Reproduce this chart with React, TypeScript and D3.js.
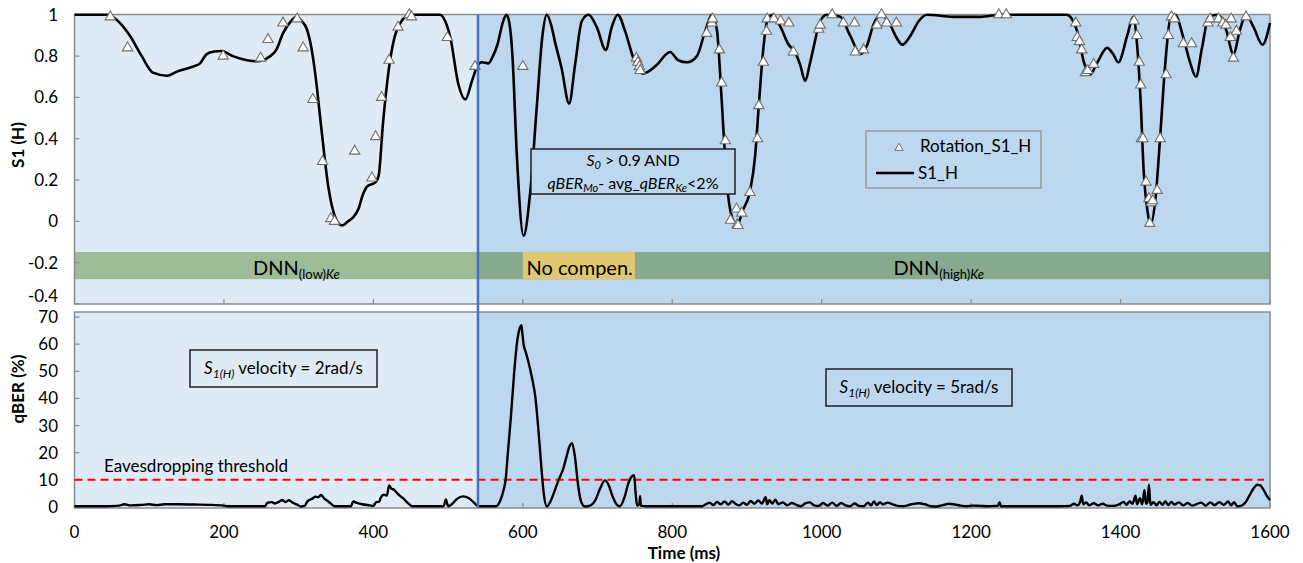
import React from "react";
import * as d3 from "d3";

// S1_H (smoothed line), time in ms
const s1Time = [0, 45, 55, 74, 90, 105, 124, 137, 159, 168, 177, 187, 197, 212, 231, 244, 262, 270, 279, 290, 297, 304, 311, 317, 322, 331, 340, 349, 358, 366, 373, 380, 386, 392, 398, 403, 407, 413, 422, 429, 436, 449, 489, 496, 503, 514, 523, 532, 539, 545, 554, 560, 566, 573, 578, 582, 586, 592, 601, 610, 619, 626, 632, 638, 643, 652, 662, 670, 679, 688, 699, 711, 719, 727, 737, 748, 761, 770, 780, 797, 808, 820, 833, 844, 853, 860, 864, 869, 875, 882, 887, 894, 904, 911, 916, 922, 927, 934, 945, 955, 964, 971, 978, 984, 989, 998, 1007, 1025, 1038, 1052, 1061, 1069, 1079, 1092, 1100, 1108, 1119, 1130, 1141, 1176, 1212, 1240, 1328, 1335, 1342, 1351, 1359, 1369, 1382, 1390, 1397, 1409, 1417, 1422, 1427, 1431, 1436, 1440, 1447, 1453, 1460, 1467, 1473, 1484, 1493, 1501, 1509, 1518, 1530, 1541, 1551, 1560, 1568, 1578, 1590, 1600];
const s1Value = [1.0, 1.0, 0.98, 0.9, 0.8, 0.72, 0.705, 0.725, 0.75, 0.765, 0.81, 0.822, 0.825, 0.8, 0.78, 0.775, 0.8, 0.83, 0.91, 0.97, 0.99, 0.97, 0.93, 0.84, 0.72, 0.43, 0.16, 0.02, -0.02, 0.0, 0.02, 0.06, 0.13, 0.17, 0.18, 0.19, 0.22, 0.48, 0.77, 0.9, 0.96, 1.0, 1.0, 0.97, 0.89, 0.66, 0.59, 0.68, 0.75, 0.77, 0.765, 0.8, 0.855, 0.96, 1.0, 0.96, 0.81, 0.32, -0.07, 0.145, 0.57, 0.89, 1.0, 0.95, 0.87, 0.74, 0.57, 0.76, 0.97, 1.0, 0.94, 0.83, 0.94, 1.0, 0.92, 0.79, 0.715, 0.73, 0.76, 0.82, 0.78, 0.77, 0.8, 0.92, 1.0, 0.92, 0.72, 0.41, 0.12, 0.0, -0.02, 0.05, 0.145, 0.32, 0.57, 0.84, 0.97, 1.0, 0.94, 0.86, 0.82, 0.76, 0.68, 0.76, 0.84, 0.97, 1.0, 0.99, 0.9, 0.81, 0.855, 0.95, 1.0, 0.95, 0.89, 0.855, 0.9, 0.97, 1.0, 0.99, 0.99, 1.0, 1.0, 0.98, 0.92, 0.77, 0.71, 0.77, 0.84, 0.81, 0.77, 0.9, 0.99, 0.86, 0.57, 0.24, 0.05, -0.015, 0.12, 0.41, 0.77, 0.99, 1.0, 0.89, 0.77, 0.7, 0.84, 0.99, 1.0, 0.93, 0.81, 0.93, 1.0, 0.94, 0.855, 0.96];

// Rotation_S1_H (triangle markers)
const rotTime = [48, 71, 199, 249, 259, 279, 298, 306, 319, 332, 343, 348, 375, 398, 403, 411, 421, 433, 448, 451, 499, 536, 600, 752, 754, 756, 757, 846, 853, 854, 863, 866, 871, 878, 886, 887, 888, 893, 904, 914, 916, 922, 926, 927, 936, 945, 956, 962, 996, 998, 1014, 1029, 1044, 1045, 1056, 1074, 1080, 1087, 1100, 1237, 1247, 1340, 1342, 1345, 1348, 1353, 1356, 1364, 1418, 1422, 1425, 1427, 1428, 1430, 1434, 1438, 1439, 1441, 1443, 1449, 1453, 1461, 1464, 1468, 1472, 1484, 1495, 1517, 1520, 1531, 1537, 1541, 1547, 1548, 1551, 1555, 1568];
const rotValue = [0.99, 0.84, 0.8, 0.79, 0.88, 0.96, 0.98, 0.84, 0.59, 0.29, 0.013, 0.0, 0.34, 0.21, 0.41, 0.6, 0.78, 0.94, 1.0, 0.99, 0.89, 0.75, 0.75, 0.79, 0.77, 0.75, 0.73, 0.91, 0.96, 0.98, 0.83, 0.67, 0.39, 0.005, 0.06, -0.015, -0.02, 0.04, 0.14, 0.4, 0.56, 0.77, 0.92, 0.98, 0.98, 0.97, 0.96, 0.82, 0.93, 0.95, 1.0, 0.96, 0.96, 0.82, 0.83, 0.95, 1.0, 0.96, 0.96, 1.0, 1.0, 0.96, 0.89, 0.87, 0.83, 0.72, 0.73, 0.76, 0.97, 0.9, 0.77, 0.66, 0.4, 0.4, 0.19, 0.11, -0.01, 0.09, 0.1, 0.15, 0.4, 0.71, 0.9, 0.99, 0.98, 0.86, 0.86, 0.96, 0.98, 0.98, 0.96, 0.95, 0.89, 0.98, 0.79, 0.92, 0.99];

// qBER (%)
const qTime = [0, 40, 60, 67, 75, 90, 100, 110, 120, 140, 160, 180, 200, 205, 255, 258, 264, 268, 274, 278, 282, 287, 292, 298, 303, 308, 312, 318, 322, 326, 330, 334, 338, 342, 348, 370, 373, 378, 385, 395, 400, 404, 408, 410, 414, 418, 421, 424, 428, 432, 436, 440, 446, 452, 494, 497, 500, 505, 512, 520, 528, 535, 540, 564, 570, 574, 577, 580, 584, 588, 592, 596, 598, 599, 601, 604, 607, 612, 617, 621, 625, 628, 632, 637, 642, 648, 654, 658, 662, 666, 670, 674, 678, 683, 690, 697, 703, 710, 715, 720, 726, 730, 736, 741, 745, 749, 751, 753, 756, 757, 758, 765, 800, 840, 845, 850, 855, 860, 865, 870, 875, 880, 885, 890, 895, 900, 905, 910, 915, 920, 925, 927, 930, 934, 938, 942, 948, 954, 960, 966, 972, 978, 984, 990, 996, 1002, 1008, 1014, 1020, 1026, 1032, 1038, 1044, 1050, 1056, 1062, 1066, 1070, 1074, 1078, 1082, 1088, 1095, 1102, 1110, 1120, 1130, 1138, 1146, 1154, 1162, 1170, 1178, 1186, 1194, 1202, 1212, 1222, 1232, 1236, 1238, 1240, 1280, 1320, 1332, 1338, 1342, 1346, 1348, 1350, 1354, 1358, 1364, 1370, 1376, 1382, 1390, 1398, 1404, 1408, 1412, 1416, 1420, 1422, 1426, 1429, 1432, 1434, 1436, 1438, 1440, 1444, 1448, 1452, 1456, 1460, 1464, 1468, 1472, 1478, 1484, 1490, 1496, 1502, 1508, 1514, 1520, 1526, 1532, 1538, 1544, 1548, 1552, 1556, 1562, 1568, 1573, 1578, 1583, 1587, 1592, 1596, 1600];
const qValue = [0.3, 0.3, 0.5, 1.0, 0.6, 0.8, 1.0, 0.7, 1.0, 1.0, 0.9, 0.8, 0.5, 0.3, 0.3, 1.5, 1.8, 1.3, 2.0, 2.6, 1.8, 2.5, 1.6, 0.9, 0.2, 0.4, 2.2, 3.0, 3.8, 3.6, 4.4, 3.2, 2.4, 1.5, 0.3, 0.3, 2.0, 1.5, 1.0, 0.6, 0.4, 1.8, 2.0, 3.5, 4.5, 4.2, 7.9, 6.8, 6.3, 5.0, 4.0, 3.2, 1.5, 0.3, 0.3, 2.8, 0.3, 1.0, 3.0, 3.9, 3.2, 1.5, 0.3, 0.3, 2.5, 6.0, 10, 20, 33, 48, 60, 66, 67, 65, 60, 57, 54, 48, 40, 28, 14, 5, 0.2, 2.0, 5.5, 10, 14, 18, 22, 23.5, 18, 8, 2, 0.2, 0.5, 2.5, 6.5, 9.8, 8.0, 4, 0.8, 0.3, 3.5, 8.5, 11, 11.7, 5, 0.5, 1, 4, 0.5, 0.3, 0.3, 0.3, 1.0, 1.6, 0.7, 1.9, 1.0, 2.0, 0.9, 2.1, 1.1, 0.6, 1.6, 0.8, 2.2, 1.2, 2.4, 1.3, 3.6, 1.0, 2.5, 1.3, 2.7, 1.0, 1.7, 0.6, 1.5, 0.8, 0.3, 1.3, 1.7, 0.6, 0.4, 1.5, 0.5, 1.6, 0.4, 1.5, 0.6, 0.3, 1.3, 0.4, 0.3, 1.6, 0.6, 2.0, 0.7, 1.8, 0.9, 1.6, 1.0, 0.4, 0.3, 1.0, 1.4, 1.0, 0.3, 0.2, 0.7, 1.2, 0.9, 0.5, 0.3, 0.5, 0.4, 0.3, 0.4, 0.5, 1.8, 0.3, 0.3, 0.3, 0.4, 1.2, 0.6, 2.0, 4.2, 1.0, 1.7, 0.6, 1.4, 0.6, 1.2, 0.5, 0.4, 1.0, 1.9, 0.8, 2.0, 1.2, 4.2, 1.0, 3.2, 1.0, 6.3, 1.2, 1.7, 8.2, 0.8, 1.8, 0.6, 1.9, 0.8, 2.0, 0.7, 1.9, 0.9, 1.7, 0.6, 1.5, 0.5, 1.1, 1.6, 0.5, 1.7, 0.7, 1.8, 0.8, 2.0, 0.6, 1.8, 0.3, 0.5, 2.0, 4.5, 6.8, 8.2, 8.0, 6.0, 4.0, 2.5];

const xTicks = [0, 200, 400, 600, 800, 1000, 1200, 1400, 1600];
const s1Ticks = [1, 0.8, 0.6, 0.4, 0.2, 0, -0.2, -0.4];
const qTicks = [0, 10, 20, 30, 40, 50, 60, 70];

const switchTime = 540;
const noCompStart = 600;
const noCompEnd = 750;
const threshold = 10;

const FONT = "Lato, 'Open Sans', sans-serif";

export default function App() {
  const x = d3.scaleLinear().domain([0, 1600]).range([74.5, 1270]);
  const yTop = d3.scaleLinear().domain([-0.4, 1]).range([304, 14.8]);
  const yBot = d3.scaleLinear().domain([0, 70]).range([507, 317]);
  const topY0 = 14.5, topY1 = 304, botY0 = 312, botY1 = 508;

  const s1Line = d3.line<number>().x((_, i) => x(s1Time[i])).y((d) => yTop(d)).curve(d3.curveMonotoneX);
  const qLine = d3.line<number>().x((_, i) => x(qTime[i])).y((d) => yBot(d)).curve(d3.curveMonotoneX);
  const tri = d3.symbol().type(d3.symbolTriangle).size(46)();
  const triSmall = d3.symbol().type(d3.symbolTriangle).size(30)();

  const bg = (y0: number, y1: number) => (
    <g>
      <rect x={x(0)} y={y0} width={x(switchTime) - x(0)} height={y1 - y0} fill="#deebf7" />
      <rect x={x(switchTime)} y={y0} width={x(1600) - x(switchTime)} height={y1 - y0} fill="#bdd7ee" />
    </g>
  );

  const bandY0 = yTop(-0.148), bandY1 = yTop(-0.28);

  return (
    <svg width={1303} height={563} style={{ position: "absolute", left: 0, top: 0, background: "#fff" }} fontFamily={FONT}>
      {bg(topY0, topY1)}
      {bg(botY0, botY1)}

      {/* mode band */}
      <rect x={x(0)} y={bandY0} width={x(switchTime) - x(0)} height={bandY1 - bandY0} fill="#9dbb97" />
      <rect x={x(switchTime)} y={bandY0} width={x(1600) - x(switchTime)} height={bandY1 - bandY0} fill="#87aa8f" />
      <rect x={x(noCompStart)} y={bandY0} width={x(noCompEnd) - x(noCompStart)} height={bandY1 - bandY0} fill="#dfc870" />
      <text x={x(239)} y={275} fontSize={20} fill="#000">DNN<tspan fontSize={13} dy={4}>(low)</tspan><tspan fontSize={13} fontStyle="italic">Ke</tspan></text>
      <text x={x(605)} y={275} fontSize={20} fill="#000">No compen.</text>
      <text x={x(1096)} y={275} fontSize={20} fill="#000">DNN<tspan fontSize={13} dy={4}>(high)</tspan><tspan fontSize={13} fontStyle="italic">Ke</tspan></text>

      {/* frames */}
      <rect x={x(0)} y={topY0} width={x(1600) - x(0)} height={topY1 - topY0} fill="none" stroke="#8c8c8c" strokeWidth={1.5} />
      <rect x={x(0)} y={botY0} width={x(1600) - x(0)} height={botY1 - botY0} fill="none" stroke="#8c8c8c" strokeWidth={1.5} />

      {/* ticks */}
      {xTicks.map((t) => (
        <g key={"xt" + t}>
          <line x1={x(t)} x2={x(t)} y1={topY1} y2={topY1 - 5} stroke="#8c8c8c" strokeWidth={1.2} />
          <line x1={x(t)} x2={x(t)} y1={botY1} y2={botY1 - 5} stroke="#8c8c8c" strokeWidth={1.2} />
          <text x={x(t)} y={538} textAnchor="middle" fontSize={17} fill="#000">{t}</text>
        </g>
      ))}
      {s1Ticks.map((t) => (
        <g key={"yt" + t}>
          <line x1={x(0)} x2={x(0) + 5} y1={yTop(t)} y2={yTop(t)} stroke="#8c8c8c" strokeWidth={1.2} />
          <text x={58} y={Math.min(yTop(t), 296) + 6} textAnchor="end" fontSize={17} fill="#000">{t}</text>
        </g>
      ))}
      {qTicks.map((t) => (
        <g key={"qt" + t}>
          <line x1={x(0)} x2={x(0) + 5} y1={yBot(t)} y2={yBot(t)} stroke="#8c8c8c" strokeWidth={1.2} />
          <text x={58} y={yBot(t) + 6} textAnchor="end" fontSize={17} fill="#000">{t}</text>
        </g>
      ))}

      {/* axis titles */}
      <text transform={`translate(24,145) rotate(-90)`} textAnchor="middle" fontSize={17} fontWeight="bold">S1 (H)</text>
      <text transform={`translate(24,389) rotate(-90)`} textAnchor="middle" fontSize={17} fontWeight="bold">qBER (%)</text>
      <text x={684} y={559} textAnchor="middle" fontSize={17} fontWeight="bold">Time (ms)</text>

      {/* threshold */}
      <line x1={x(0)} x2={x(1592)} y1={yBot(threshold)} y2={yBot(threshold)} stroke="#ff0000" strokeWidth={2} strokeDasharray="8,5" />
      <text x={104} y={472} fontSize={17}>Eavesdropping threshold</text>

      {/* curves */}
      <path d={s1Line(s1Value) || ""} fill="none" stroke="#000" strokeWidth={2.6} />
      <path d={qLine(qValue) || ""} fill="none" stroke="#000" strokeWidth={2.4} strokeLinejoin="round" />
      {rotTime.map((t, i) => (
        <path key={"r" + i} d={tri || ""} transform={`translate(${x(t)},${yTop(rotValue[i])})`} fill="#fff" stroke="#707070" strokeWidth={1.1} />
      ))}

      {/* switch line */}
      <line x1={x(switchTime)} x2={x(switchTime)} y1={topY0} y2={botY1} stroke="#4472c4" strokeWidth={2.5} />

      {/* legend */}
      <rect x={866} y={131} width={175} height={57} fill="none" stroke="#8c8c8c" strokeWidth={1.2} />
      <path d={triSmall || ""} transform="translate(899,148)" fill="#fff" stroke="#707070" strokeWidth={1} />
      <text x={920} y={152} fontSize={17}>Rotation_S1_H</text>
      <line x1={876} x2={914} y1={173} y2={173} stroke="#000" strokeWidth={2.6} />
      <text x={918} y={179} fontSize={17}>S1_H</text>

      {/* condition box */}
      <rect x={531} y={149} width={204} height={45} fill="#bdd7ee" stroke="#222" strokeWidth={1.5} />
      <text x={633} y={166} textAnchor="middle" fontSize={16}>
        <tspan fontStyle="italic">S</tspan><tspan fontStyle="italic" fontSize={11} dy={3}>0</tspan><tspan dy={-3}> &gt; 0.9 AND</tspan>
      </text>
      <text x={633} y={189} textAnchor="middle" fontSize={16}>
        <tspan fontStyle="italic">qBER</tspan><tspan fontStyle="italic" fontSize={11} dy={3}>Mo</tspan><tspan dy={-3}>- avg_</tspan><tspan fontStyle="italic">qBER</tspan><tspan fontStyle="italic" fontSize={11} dy={3}>Ke</tspan><tspan dy={-3}>&lt;2%</tspan>
      </text>

      {/* velocity boxes */}
      <rect x={190} y={350} width={187} height={37} fill="#deebf7" stroke="#222" strokeWidth={1.5} />
      <text x={283.5} y={374} textAnchor="middle" fontSize={17}>
        <tspan fontStyle="italic">S</tspan><tspan fontStyle="italic" fontSize={12} dy={4}>1(H)</tspan><tspan dy={-4}> velocity = 2rad/s</tspan>
      </text>
      <rect x={826} y={369} width={186} height={37} fill="#bdd7ee" stroke="#222" strokeWidth={1.5} />
      <text x={919} y={393} textAnchor="middle" fontSize={17}>
        <tspan fontStyle="italic">S</tspan><tspan fontStyle="italic" fontSize={12} dy={4}>1(H)</tspan><tspan dy={-4}> velocity = 5rad/s</tspan>
      </text>
    </svg>
  );
}
